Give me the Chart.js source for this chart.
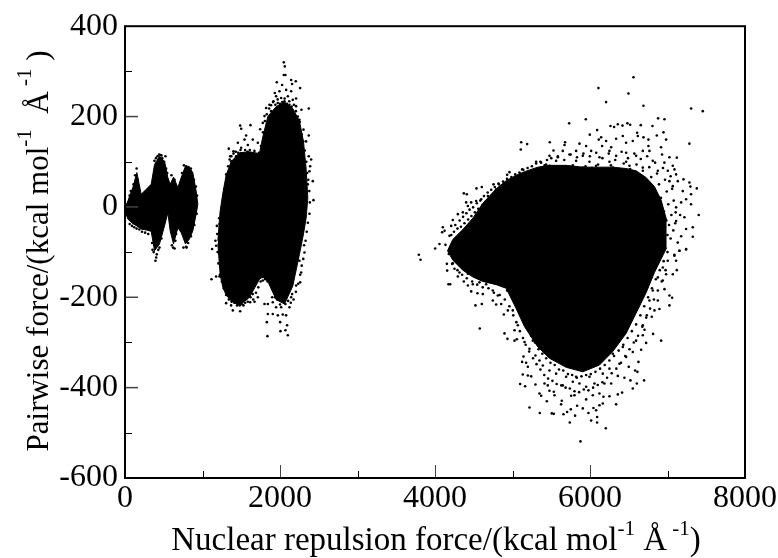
<!DOCTYPE html>
<html>
<head>
<meta charset="utf-8">
<script src="https://cdn.jsdelivr.net/npm/chart.js@4"></script>
<style>
  html, body { margin: 0; padding: 0; background: #fff; }
  canvas { display: block; }
</style>
</head>
<body>
<canvas id="chart" width="778" height="558"></canvas>
<script>
const wavesX = [0, 37, 101, 153, 209, 273, 338, 381, 445, 510, 553, 583, 626, 682, 725, 780, 832, 875, 918, 940];
const wavesTop = [-1, 13, 43, 76, 28, 39, 50, 94, 112, 101, 65, 50, 66, 43, 65, 90, 87, 76, 35, 6];
const wavesBottom = [-9, -27, -37, -42, -49, -51, -54, -97, -82, -42, -13, -53, -82, -46, -57, -82, -71, -53, -16, 6];

const middleX = [1198, 1228, 1262, 1305, 1369, 1477, 1606, 1735, 1778, 1843, 1950, 2058, 2165, 2251, 2303, 2337, 2359];
const middleTop = [-75, -9, 30, 70, 100, 120, 122, 118, 155, 200, 222, 232, 218, 190, 145, 85, 20];
const middleBottom = [-82, -150, -178, -195, -208, -218, -200, -160, -155, -165, -205, -215, -175, -105, -60, -25, 20];

const bigX = [4161, 4230, 4359, 4488, 4617, 4789, 4918, 5047, 5155, 5327, 5477, 5692, 5907, 6122, 6294, 6466, 6595, 6724, 6832, 6918, 6990];
const bigTop = [-97, -72, -50, -25, 8, 40, 58, 70, 78, 88, 92, 92, 88, 88, 88, 85, 80, 65, 45, 15, -30];
const bigBottom = [-97, -118, -140, -155, -165, -172, -180, -225, -265, -310, -335, -355, -365, -350, -320, -280, -235, -190, -145, -115, -90];

// scattered points round the edges of the cloud
const wavesPoints = [[393,-119],[402,-112],[522,112],[440,116],[470,114],[355,-95],[640,-92],[790,-88],[60,-38],[90,-42],[120,-45],[150,-48],[185,-50],[220,-55],[260,-57],[300,-60],[350,-80],[370,-100],[410,-105],[430,-95],[445,-90],[470,-70],[620,-90],[605,-85],[650,-75],[660,-60],[755,-90],[795,-90],[815,-80],[850,-65],[895,-40],[925,-15],[380,102],[400,108],[420,112],[455,115],[480,108],[505,100],[530,85],[545,75],[600,70],[640,60],[735,75],[760,92],[790,90],[820,88],[850,85],[890,60],[915,45],[930,25],[130,70],[150,85],[165,60],[110,50],[75,35],[60,25]];
const middlePoints = [[2049,320],[2062,311],[2049,292],[2070,292],[1959,276],[2027,270],[2144,281],[2204,278],[2156,272],[2260,263],[1933,252],[1993,256],[2079,259],[2144,256],[1916,234],[1950,245],[2015,241],[2101,245],[2165,237],[2208,240],[1864,226],[1821,219],[1971,230],[2058,234],[2122,226],[2208,223],[2277,215],[2371,218],[1800,201],[1778,186],[1886,212],[2251,193],[2303,171],[2371,158],[2337,145],[2402,105],[2389,90],[2380,79],[2423,57],[2432,15],[2359,50],[2371,112],[1486,180],[1499,173],[1619,181],[1744,172],[1563,158],[1542,149],[1456,142],[1339,129],[1357,112],[1400,123],[1499,131],[1585,137],[1649,149],[1714,142],[1692,116],[1585,120],[1434,112],[1369,101],[1327,72],[1185,-42],[1219,-38],[1167,-75],[1124,-93],[1176,-86],[1116,-160],[1176,-154],[1219,-154],[1305,-213],[1369,-218],[1391,-229],[1486,-231],[1529,-218],[1425,-211],[1615,-211],[1671,-210],[1714,-200],[1800,-215],[1843,-215],[1899,-200],[1950,-222],[2015,-222],[2122,-222],[2144,-200],[2079,-240],[2036,-238],[1843,-237],[1830,-255],[1907,-237],[1972,-240],[2002,-255],[2092,-262],[2006,-275],[2070,-273],[2101,-284],[1838,-286],[2260,-167],[2208,-174],[2273,-145],[2251,-119],[2316,-101],[2208,-75],[2156,-193],[2015,-207],[1907,-211],[1563,-204],[1649,-193],[1778,-163],[1800,-152]];
const middleBand = [[1240,-15],[1262,10],[1285,40],[1305,72],[1330,90],[1350,105],[1372,112],[1400,118],[1430,122],[1460,120],[1490,126],[1520,118],[1550,126],[1580,122],[1610,126],[1640,118],[1670,124],[1700,116],[1730,120],[1755,135],[1780,165],[1805,190],[1830,205],[1860,218],[1885,225],[1910,232],[1940,226],[1970,238],[2000,228],[2030,232],[2060,240],[2090,228],[2120,234],[2150,222],[2180,226],[2205,212],[2230,200],[2255,188],[2280,160],[2300,145],[2320,125],[2340,100],[2350,75],[2365,60],[2378,35],[2385,10],[2380,-15],[2360,-35],[2345,-55],[2330,-75],[2310,-85],[2300,-115],[2280,-130],[2260,-150],[2235,-170],[2205,-188],[2175,-205],[2140,-212],[2105,-208],[2070,-215],[2035,-208],[2000,-216],[1965,-205],[1935,-200],[1900,-180],[1875,-170],[1840,-165],[1810,-160],[1780,-155],[1750,-165],[1720,-178],[1690,-190],[1655,-205],[1620,-200],[1585,-210],[1550,-212],[1515,-216],[1480,-218],[1445,-218],[1410,-212],[1375,-210],[1340,-205],[1305,-195],[1275,-180],[1250,-165],[1225,-150],[1205,-125],[1195,-100],[1190,-60],[1215,-25]];
const bigUpperPoints = [[6561,287],[6109,263],[6496,251],[6208,232],[6690,224],[7305,218],[7455,212],[5731,185],[5946,194],[6879,196],[6961,194],[6264,179],[6311,177],[6359,183],[6419,180],[6483,185],[6518,182],[6655,181],[6806,179],[6092,170],[5997,160],[6608,164],[6948,165],[6862,158],[6617,157],[6690,154],[6754,149],[6982,149],[6337,151],[6423,157],[6144,154],[6113,149],[6208,146],[5112,143],[5189,139],[5107,127],[5481,143],[5679,143],[5671,137],[7283,140],[5864,140],[5950,135],[6156,135],[6273,132],[6466,142],[6552,146],[6754,135],[6917,132],[5529,125],[5649,124],[5821,124],[6015,124],[6251,124],[6466,120],[6681,124],[6767,124],[6930,116],[7025,110],[7120,109],[5477,113],[5585,110],[5735,116],[5907,113],[6122,110],[6337,113],[6595,113],[5305,100],[5370,98],[5434,94],[5563,102],[5821,102],[5993,100],[6251,100],[6466,100],[6810,102],[6960,98],[7068,91],[7090,83],[5124,83],[4961,77],[4931,71],[5069,65],[5219,76],[5327,83],[5477,91],[5692,87],[5907,87],[6079,91],[6294,87],[6509,91],[6681,87],[6875,80],[7004,80],[7111,72],[7133,57],[7206,61],[7283,54],[7296,45],[7378,41],[7304,28],[7197,35],[7068,46],[7025,57],[7240,17],[7176,10],[7304,6],[7111,-1],[7403,-18],[7326,-45],[7218,-23],[7163,-18],[7111,-31],[7176,-65],[7326,-66],[7240,-49],[7132,-79],[7240,-93],[7154,-97],[7089,-108],[4819,52],[4755,50],[4604,44],[4535,41],[4372,30],[4411,28],[4402,10],[4467,10],[4531,13],[4596,17],[4682,24],[4789,39],[4897,46],[5004,57],[4230,-29],[4209,-42],[4101,-45],[4123,-53],[4092,-56],[4295,-16],[4359,-12],[4424,2],[4058,-82],[4002,-92],[4135,-84],[3791,-106],[3813,-117],[4187,-64],[4178,-104]];
const bigUpperBand = [[4210,-62],[4245,-55],[4262,-40],[4290,-48],[4318,-30],[4335,-44],[4362,-22],[4380,-36],[4405,-14],[4428,-28],[4446,-6],[4470,-20],[4492,-1],[4515,-12],[4540,8],[4558,-4],[4585,14],[4610,4],[4632,24],[4655,12],[4680,32],[4702,20],[4725,38],[4750,28],[4772,44],[4800,36],[4825,50],[4850,42],[4878,56],[4905,48],[4930,62],[4955,52],[4985,66],[5010,58],[5035,72],[5060,62],[5090,76],[5115,66],[5140,82],[5168,70],[5195,86],[5220,74],[5250,90],[5278,78],[5305,96],[5330,82],[5360,100],[5388,86],[5415,92],[5445,104],[5470,84],[5500,108],[5528,90],[5556,80],[5585,112],[5612,88],[5640,76],[5668,104],[5695,84],[5722,72],[5750,116],[5778,92],[5805,78],[5832,110],[5860,84],[5888,70],[5915,118],[5942,90],[5970,76],[5998,112],[6025,86],[6052,70],[6080,120],[6105,94],[6132,74],[6160,108],[6188,84],[6215,66],[6242,118],[6270,92],[6298,72],[6325,104],[6352,82],[6380,66],[6408,122],[6435,96],[6462,76],[6490,108],[6518,84],[6545,62],[6572,118],[6600,94],[6628,70],[6655,106],[6682,80],[6710,56],[6738,112],[6765,88],[6790,66],[6815,40],[6840,98],[6865,74],[6890,50],[6915,20],[6942,86],[6968,60],[6990,34],[7010,6],[7040,68],[7060,40],[7080,14],[7105,-12],[6955,-10],[6985,-30],[7020,-40],[7050,-18],[7075,-52],[7100,-36],[7040,-70],[7000,-62]];
const bigLowerPoints = [[5877,-519],[6204,-490],[5739,-477],[6015,-473],[6092,-477],[6092,-465],[5219,-444],[5352,-456],[5507,-457],[5533,-458],[5658,-459],[5705,-454],[5752,-448],[5808,-462],[5834,-440],[5907,-446],[5980,-456],[6045,-445],[6079,-450],[6122,-439],[6165,-435],[6337,-437],[5636,-429],[5627,-437],[5443,-430],[5348,-413],[5370,-418],[5477,-407],[5533,-409],[5542,-417],[5757,-418],[5800,-417],[5950,-426],[6036,-417],[6122,-413],[6174,-420],[6251,-419],[6359,-415],[6414,-411],[6552,-402],[6522,-384],[6604,-391],[6698,-384],[6612,-365],[6582,-362],[6500,-354],[6625,-343],[5099,-392],[5163,-397],[5296,-393],[5413,-391],[5455,-395],[5649,-395],[5778,-387],[5864,-391],[5950,-398],[6058,-391],[6186,-391],[6273,-391],[6359,-374],[6444,-378],[5133,-371],[5198,-373],[5241,-375],[5198,-354],[5142,-331],[5124,-343],[5176,-345],[5296,-329],[5348,-340],[5391,-351],[5477,-362],[5563,-369],[5692,-376],[5821,-376],[5993,-376],[6165,-369],[6251,-358],[6380,-347],[6466,-332],[6552,-321],[6660,-316],[6724,-301],[6918,-296],[6814,-281],[6681,-284],[6703,-272],[6595,-296],[6423,-310],[6294,-325],[4578,-269],[4897,-280],[4935,-292],[5026,-296],[5056,-293],[5155,-299],[5219,-314],[5262,-296],[5026,-273],[5069,-262],[4888,-238],[4940,-229],[4789,-216],[4854,-215],[5004,-229],[4522,-218],[4604,-215],[4746,-207],[4811,-196],[4617,-193],[4548,-191],[4467,-187],[4424,-174],[4488,-171],[4574,-167],[4660,-171],[4746,-185],[4174,-171],[4196,-171],[4372,-165],[4295,-154],[4157,-141],[4221,-126],[4153,-126],[4252,-137],[4316,-145],[4424,-148],[7240,-94],[7154,-97],[7111,-119],[7120,-140],[7068,-149],[6982,-149],[6939,-163],[6961,-182],[6875,-207],[7025,-196],[7060,-201],[7025,-218],[6896,-226],[6832,-229],[6797,-243],[6733,-240],[6681,-262],[7089,-106],[7003,-119],[6939,-134],[6875,-156],[6810,-185],[6767,-207]];
const bigLowerBand = [[4230,-125],[4260,-118],[4290,-140],[4320,-128],[4350,-150],[4385,-138],[4410,-158],[4445,-146],[4480,-165],[4510,-150],[4545,-172],[4580,-155],[4615,-178],[4650,-160],[4690,-180],[4725,-165],[4760,-190],[4800,-170],[4835,-195],[4870,-175],[4900,-205],[4930,-185],[4960,-220],[4985,-195],[5010,-240],[5030,-210],[5050,-255],[5075,-225],[5095,-275],[5110,-240],[5135,-290],[5150,-255],[5170,-305],[5195,-270],[5215,-320],[5240,-285],[5265,-335],[5290,-300],[5310,-348],[5335,-315],[5360,-360],[5385,-325],[5410,-372],[5435,-335],[5460,-380],[5490,-345],[5515,-385],[5545,-350],[5570,-392],[5600,-360],[5630,-395],[5655,-362],[5685,-400],[5715,-370],[5740,-402],[5770,-372],[5800,-408],[5830,-378],[5860,-410],[5890,-375],[5920,-404],[5950,-372],[5980,-406],[6010,-370],[6040,-400],[6070,-365],[6100,-394],[6130,-358],[6160,-388],[6190,-350],[6220,-378],[6250,-340],[6280,-368],[6310,-330],[6340,-358],[6370,-318],[6400,-345],[6430,-305],[6455,-330],[6485,-290],[6510,-315],[6540,-275],[6565,-300],[6595,-260],[6620,-285],[6650,-240],[6675,-265],[6700,-220],[6725,-245],[6750,-200],[6775,-225],[6800,-180],[6825,-205],[6850,-160],[6875,-185],[6900,-140],[6925,-165],[6950,-120],[6975,-140],[7000,-100]];

// axis ticks
const xMajorTicks = [2000, 4000, 6000];
const xMinorTicks = [1000, 3000, 5000, 7000];
const yMajorTicks = [200, 0, -200, -400];
const yMinorTicks = [300, 100, -100, -300, -500];

const xTitleParts = [['Nuclear repulsion force/(kcal mol', 0], ['-1', 1], [' Å', 0], [' -1', 1], [')', 0]];
const yTitleParts = [['Pairwise force/(kcal mol', 0], ['-1', 1], ['  Å', 0], [' -1', 1], [' )', 0]];

const FONT = '"Liberation Serif", "Times New Roman", serif';

function edge(xs, ys) {
    return xs.map((x, i) => ({ x: x, y: ys[i] }));
}

function regionDatasets(xs, top, bottom) {
    const style = { showLine: true, pointRadius: 0, borderColor: '#000', borderWidth: 1, backgroundColor: '#000', tension: 0 };
    return [
        { data: edge(xs, bottom), fill: false, ...style },
        { data: edge(xs, top), fill: '-1', ...style }
    ];
}

function pointDataset(points) {
    return {
        data: points.map(p => ({ x: p[0], y: p[1] })),
        showLine: false,
        pointRadius: 1.3,
        pointBorderWidth: 0,
        pointBackgroundColor: '#000'
    };
}

function drawTitle(ctx, parts, size, smallSize, raise) {
    // measure first so the whole title can be centred on the origin
    let total = 0;
    parts.forEach(p => {
        ctx.font = (p[1] ? smallSize : size) + 'px ' + FONT;
        total += ctx.measureText(p[0]).width;
    });
    let pos = -total / 2;
    parts.forEach(p => {
        ctx.font = (p[1] ? smallSize : size) + 'px ' + FONT;
        ctx.fillText(p[0], pos, p[1] ? -raise : 0);
        pos += ctx.measureText(p[0]).width;
    });
}

const framePlugin = {
    id: 'frame',
    afterDraw(chart) {
        const ctx = chart.ctx;
        const a = chart.chartArea;
        const xs = chart.scales.x;
        const ys = chart.scales.y;
        ctx.save();
        ctx.strokeStyle = '#000';
        ctx.lineWidth = 1;
        xMinorTicks.forEach(v => {
            const p = Math.round(xs.getPixelForValue(v)) + 0.5;
            ctx.beginPath(); ctx.moveTo(p, a.bottom); ctx.lineTo(p, a.bottom - 7); ctx.stroke();
        });
        yMinorTicks.forEach(v => {
            const p = Math.round(ys.getPixelForValue(v)) + 0.5;
            ctx.beginPath(); ctx.moveTo(a.left, p); ctx.lineTo(a.left + 7, p); ctx.stroke();
        });
        ctx.strokeStyle = '#444';
        xMajorTicks.forEach(v => {
            const p = Math.round(xs.getPixelForValue(v)) + 0.5;
            ctx.beginPath(); ctx.moveTo(p, a.bottom); ctx.lineTo(p, a.bottom - 13); ctx.stroke();
        });
        ctx.lineWidth = 1.5;
        yMajorTicks.forEach(v => {
            const p = ys.getPixelForValue(v);
            ctx.beginPath(); ctx.moveTo(a.left, p); ctx.lineTo(a.left + 13, p); ctx.stroke();
        });
        ctx.strokeStyle = '#000';
        ctx.lineWidth = 2;
        ctx.strokeRect(a.left, a.top, a.right - a.left, a.bottom - a.top);

        ctx.fillStyle = '#000';
        ctx.textBaseline = 'alphabetic';
        ctx.textAlign = 'left';
        ctx.save();
        ctx.translate(436, 550);
        drawTitle(ctx, xTitleParts, 33, 21, 15);
        ctx.restore();
        ctx.save();
        ctx.translate(48, 251);
        ctx.rotate(-Math.PI / 2);
        drawTitle(ctx, yTitleParts, 31, 21, 17);
        ctx.restore();
        ctx.restore();
    }
};

const tickFont = { family: FONT, size: 32 };

new Chart(document.getElementById('chart').getContext('2d'), {
    type: 'scatter',
    data: {
        datasets: [
            ...regionDatasets(wavesX, wavesTop, wavesBottom),
            ...regionDatasets(middleX, middleTop, middleBottom),
            ...regionDatasets(bigX, bigTop, bigBottom),
            pointDataset(wavesPoints),
            pointDataset(middlePoints),
            pointDataset(middleBand),
            pointDataset(bigUpperPoints),
            pointDataset(bigUpperBand),
            pointDataset(bigLowerPoints),
            pointDataset(bigLowerBand)
        ]
    },
    options: {
        responsive: false,
        animation: false,
        events: [],
        layout: { padding: { top: 25, right: 32, bottom: 0, left: 0 } },
        plugins: { legend: { display: false }, tooltip: { enabled: false } },
        scales: {
            x: {
                type: 'linear',
                min: 0,
                max: 8000,
                afterFit: scale => { scale.height = 80; },
                grid: { display: false, tickLength: 0 },
                border: { display: false },
                ticks: { stepSize: 2000, color: '#000', font: tickFont, maxRotation: 0, padding: 1, callback: v => String(v) }
            },
            y: {
                type: 'linear',
                min: -600,
                max: 400,
                afterFit: scale => { scale.width = 125; },
                grid: { display: false, tickLength: 0 },
                border: { display: false },
                ticks: { stepSize: 200, color: '#000', font: tickFont, padding: 7, callback: v => String(v) }
            }
        }
    },
    plugins: [framePlugin]
});
</script>
</body>
</html>
